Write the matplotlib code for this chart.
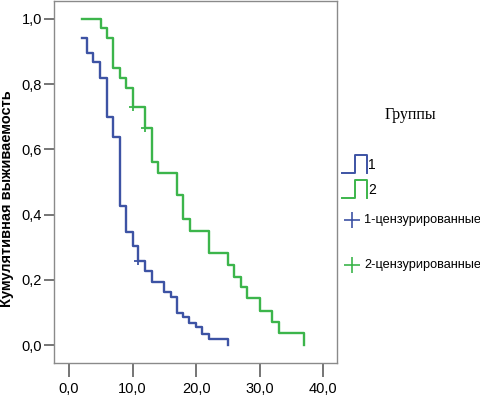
import numpy as np
import matplotlib
matplotlib.use("Agg")
import matplotlib.pyplot as plt

plt.rcParams['font.family'] = ['Liberation Sans', 'DejaVu Sans']

# group 1 (blue): step times and survival after each step
t1 = [2, 2.8, 3.8, 4.9, 5.9, 7, 8, 9, 10, 10.9, 12, 13, 15, 16, 17, 17.9, 18.9, 19.9, 20.9, 22, 25]
s1 = [0.941, 0.897, 0.867, 0.819, 0.698, 0.639, 0.426, 0.348, 0.305, 0.257, 0.226, 0.194,
      0.163, 0.148, 0.099, 0.085, 0.067, 0.054, 0.034, 0.020, 0.0]
cens1_t = [10.9]
cens1_s = [0.257]

# group 2 (green)
t2 = [2, 5, 6, 7, 8, 9, 10, 12, 13, 14, 17, 18, 19, 22, 25, 26, 27, 28, 30, 32, 33, 37]
s2 = [1.0, 0.971, 0.942, 0.851, 0.819, 0.788, 0.729, 0.666, 0.561, 0.527, 0.46, 0.386,
      0.351, 0.283, 0.245, 0.21, 0.177, 0.143, 0.105, 0.071, 0.036, 0.0]
cens2_t = [10, 12]
cens2_s = [0.729, 0.666]

xticks = [0, 10, 20, 30, 40]
xlabels = ['0,0', '10,0', '20,0', '30,0', '40,0']
yticks = [0.0, 0.2, 0.4, 0.6, 0.8, 1.0]
ylabels = ['0,0', '0,2', '0,4', '0,6', '0,8', '1,0']

blue = '#3d53a4'
green = '#3cb54b'
frame = '#8a8a8a'

W, H = 481, 398
fig = plt.figure(figsize=(W / 100, H / 100), dpi=100)
ax = fig.add_axes([54 / W, 1 - 363 / H, (337 - 54) / W, (363 - 1) / H])

ax.step(t1, s1, where='post', color=blue, lw=1.7)
ax.step(t2, s2, where='post', color=green, lw=1.7)
ax.plot(cens1_t, cens1_s, '+', color=blue, ms=6, mew=1.3)
ax.plot(cens2_t, cens2_s, '+', color=green, ms=6, mew=1.3)

ax.set_xlim(-2.36, 42.16)
ax.set_ylim(-0.055, 1.055)
ax.set_xticks(xticks)
ax.set_xticklabels(xlabels)
ax.set_yticks(yticks)
ax.set_yticklabels(ylabels)
ax.tick_params(axis='x', length=10, width=1.1, color='#505050', pad=4, labelsize=10.5)
ax.tick_params(axis='y', length=7.5, width=1.1, color='#505050', pad=1, labelsize=10.5)
for sp in ax.spines.values():
    sp.set_color(frame)
    sp.set_linewidth(1.0)

ax.set_ylabel('Кумулятивная выживаемость', fontsize=10.5, fontweight='bold')
ax.yaxis.set_label_coords((14 - 54) / 283, (363 - 199) / 362)

# legend panel, laid out in pixel units
lax = fig.add_axes([0, 0, 1, 1], zorder=-1)
lax.set_xlim(0, W)
lax.set_ylim(H, 0)
lax.axis('off')
lax.text(410, 115, 'Группы', family='Liberation Serif', fontsize=11.5, ha='center', va='center')
lax.plot([342, 355, 355, 367, 367], [173, 173, 155, 155, 173], color=blue, lw=1.4)
lax.text(368, 165, '1', fontsize=10, va='center')
lax.plot([342, 355, 355, 367, 367], [198, 198, 180, 180, 198], color=green, lw=1.4)
lax.text(368, 190, '2', fontsize=10, va='center')
lax.plot([352], [220], '+', color=blue, ms=11, mew=1.2)
lax.text(364, 220, '1-цензурированные', fontsize=9.2, va='center')
lax.plot([352], [265], '+', color=green, ms=11, mew=1.2)
lax.text(364, 265, '2-цензурированные', fontsize=9.2, va='center')

fig.savefig('out.png', dpi=100)
